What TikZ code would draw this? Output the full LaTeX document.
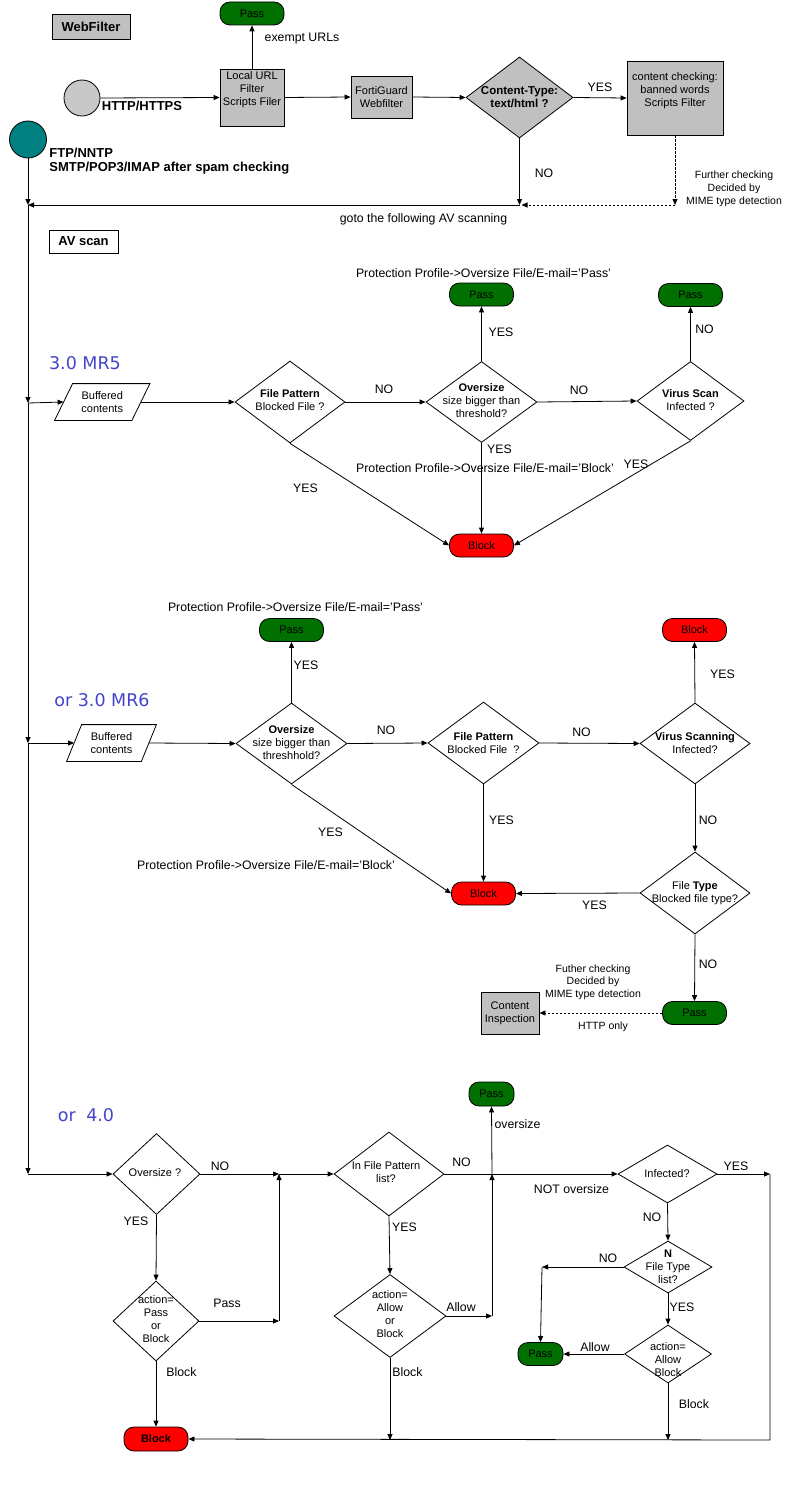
\documentclass[tikz,border=0pt]{standalone}
\usepackage{fontspec}
\setmainfont{Liberation Sans}
\newfontfamily\verfont{DejaVu Sans}
\usetikzlibrary{shapes.geometric,arrows.meta}
\definecolor{passg}{RGB}{0,112,0}
\definecolor{blockr}{RGB}{255,0,0}
\definecolor{boxg}{RGB}{192,192,192}
\definecolor{circg}{RGB}{200,200,200}
\definecolor{tealc}{RGB}{0,128,128}
\definecolor{verblue}{RGB}{68,68,204}
\newcommand\ftxt{\fontsize{11}{13}\selectfont}
\newcommand\flbl{\fontsize{12.3}{14}\selectfont}
\newcommand\fhead{\fontsize{13}{15}\selectfont\bfseries}
\newcommand\fver{\verfont\fontsize{17.5}{20}\selectfont}
\begin{document}
\begin{tikzpicture}[x=1pt,y=-1pt,line width=0.8pt,
  boxnode/.style={draw, fill=boxg, inner sep=0, align=center, font=\ftxt},
  term/.style={draw, rounded corners=10pt, inner sep=0, minimum width=64pt, minimum height=23pt, font=\ftxt},
  passnode/.style={term, fill=passg},
  blocknode/.style={term, fill=blockr},
  dia/.style={draw, diamond, inner sep=0},
  dtext/.style={align=center, font=\ftxt, inner sep=0},
  lbl/.style={font=\flbl, inner sep=0},
  vlbl/.style={font=\fver, text=verblue, inner sep=0},
  arr/.style={-{Triangle[length=6pt,width=5pt]}},
  dashline/.style={dash pattern=on 2.5pt off 1.5pt},
  buf/.style={inner sep=0, minimum height=36pt, align=center, font=\ftxt}
]
\useasboundingbox (0,0) rectangle (788,1498);

% ---------------- WebFilter ----------------
\node[boxnode, minimum width=78pt, minimum height=25pt, font=\fhead] (wf) at (91,26.5) {WebFilter};
\node[passnode] (p0) at (252,13.5) {Pass};
\node[boxnode, minimum width=64pt, minimum height=57pt] (url) at (252,97.5) {};
\node[dtext] at (252,90) {Local URL\\Filter\\Scripts Filer};
\node[draw, circle, fill=circg, minimum size=36pt, inner sep=0] (c1) at (82,98) {};
\node[font=\fhead, inner sep=0] at (142,106) {HTTP/HTTPS};
\node[boxnode, minimum width=61pt, minimum height=42pt] (fg) at (381.5,97) {FortiGuard\\Webfilter};
\node[dia, fill=boxg, minimum width=107pt, minimum height=81pt] (ct) at (519.5,97.5) {};
\node[dtext, font=\fontsize{11.5}{13}\selectfont\bfseries] at (519.5,97.5) {Content-Type:\\text/html ?};
\node[boxnode, minimum width=96pt, minimum height=74pt] (cc) at (675,98) {};
\node[dtext] at (675,91) {content checking:\\banned words\\Scripts Filter};
\coordinate (g1) at (519.5,205);
\coordinate (g2) at (675,205);
\node[draw, circle, fill=tealc, minimum size=37pt, inner sep=0] (c2) at (28,139.5) {};
\node[font=\fhead, anchor=west, inner sep=0] at (49,153) {FTP/NNTP};
\node[font=\fhead, anchor=west, inner sep=0] at (49,168) {SMTP/POP3/IMAP after spam checking};
\coordinate (j0) at (28,205);
\coordinate (j1) at (28,403);
\coordinate (j2) at (28,743);
\coordinate (j3) at (28,1174);

\draw[arr] (url.north) -- (p0.south);
\node[lbl] at (302,39) {exempt URLs};
\draw[arr] (c1.east) -- (url.west);
\draw[arr] (url.east) -- (fg.west);
\draw[arr] (fg.east) -- (ct.west);
\draw[arr] (ct.east) -- (cc.west);
\node[lbl] at (600,87) {YES};
\draw[arr] (ct.south) -- (g1);
\node[lbl] at (544,173) {NO};
\draw[arr, dashline] (cc.south) -- (g2);
\draw[arr, dashline] (g2) -- ([xshift=2pt]g1);
\node[dtext, font=\fontsize{10.5}{13}\selectfont] at (734,189) {Further checking\\Decided by\\MIME type detection};
\draw[arr] (g1) -- (j0);
\node[lbl] at (423.5,219) {goto the following AV scanning};

\draw[arr] (c2.south) -- (j0);
\draw[arr] (j0) -- (j1);
\draw[arr] (j1) -- (j2);
\draw[arr] (j2) -- (j3);

\node[draw, minimum width=69pt, minimum height=23pt, font=\fhead, inner sep=0] (av) at (83.5,241.5) {AV scan};

% ---------------- 3.0 MR5 ----------------
\node[vlbl] at (85,363) {3.0 MR5};
\node[buf, minimum width=76.5pt] (buf5) at (102.25,402) {Buffered\\contents};
\draw ([xshift=9pt]buf5.north west) -- ([xshift=9pt]buf5.north east) -- ([xshift=-9pt]buf5.south east) -- ([xshift=-9pt]buf5.south west) -- cycle;
\node[dia, minimum width=110pt, minimum height=82pt] (fp5) at (290,402) {};
\node[dtext] at (290,400.5) {\textbf{File Pattern}\\Blocked File ?};
\node[dia, minimum width=111pt, minimum height=81pt] (ov5) at (481.5,402) {};
\node[dtext] at (481.5,401) {\textbf{Oversize}\\size bigger than\\threshold?};
\node[dia, minimum width=107pt, minimum height=79pt] (vs5) at (690.5,401) {};
\node[dtext] at (690.5,400) {\textbf{Virus Scan}\\Infected ?};
\node[passnode] (p5a) at (481.5,294.5) {Pass};
\node[passnode] (p5b) at (690.5,295) {Pass};
\node[blocknode] (b5) at (481.5,545.5) {Block};

\draw[arr] (j1) -- (buf5.west);
\draw[arr] (buf5.east) -- (fp5.west);
\draw[arr] (fp5.east) -- (ov5.west);
\node[lbl] at (384,389) {NO};
\draw[arr] (ov5.north) -- (p5a.south);
\node[lbl] at (501,332) {YES};
\node[lbl] at (483.5,273) {Protection Profile->Oversize File/E-mail='Pass'};
\draw[arr] (ov5.east) -- (vs5.west);
\node[lbl] at (579,390) {NO};
\draw[arr] (vs5.north) -- (p5b.south);
\node[lbl] at (704.5,329) {NO};
\draw[arr] (ov5.south) -- (b5.north);
\node[lbl] at (499.5,449) {YES};
\node[lbl] at (485,468) {Protection Profile->Oversize File/E-mail='Block'};
\draw[arr] (fp5.south) -- (b5.west);
\node[lbl] at (305.5,488) {YES};
\draw[arr] (vs5.south) -- (b5.east);
\node[lbl] at (636,464) {YES};

% ---------------- 3.0 MR6 ----------------
\node[vlbl] at (102,700) {or 3.0 MR6};
\node[buf, minimum width=74pt] (buf6) at (111.5,743) {Buffered\\contents};
\draw ([xshift=7.5pt]buf6.north west) -- ([xshift=7.5pt]buf6.north east) -- ([xshift=-7.5pt]buf6.south east) -- ([xshift=-7.5pt]buf6.south west) -- cycle;
\node[dia, minimum width=111pt, minimum height=81pt] (ov6) at (291.5,743.5) {};
\node[dtext] at (291.5,743) {\textbf{Oversize}\\size bigger than\\threshhold?};
\node[dia, minimum width=111pt, minimum height=82pt] (fp6) at (483.5,743) {};
\node[dtext] at (483.5,743) {\textbf{File Pattern}\\Blocked File\ \ ?};
\node[dia, minimum width=110pt, minimum height=81pt] (vs6) at (695,743.5) {};
\node[dtext] at (695,743) {\textbf{Virus Scanning}\\Infected?};
\node[dia, minimum width=110pt, minimum height=82pt] (ft6) at (695,893) {};
\node[dtext] at (695,893) {File \textbf{Type}\\Blocked file type?};
\node[passnode] (p6a) at (291.5,630) {Pass};
\node[blocknode] (b6a) at (694.5,630) {Block};
\node[blocknode] (b6b) at (483.5,893.5) {Block};
\node[passnode] (p6b) at (694.5,1013) {Pass};
\node[boxnode, minimum width=58pt, minimum height=42pt] (ci) at (510,1013) {Content\\Inspection};

\draw[arr] (j2) -- (buf6.west);
\draw[arr] (buf6.east) -- (ov6.west);
\draw[arr] (ov6.north) -- (p6a.south);
\node[lbl] at (306,665) {YES};
\node[lbl] at (295.5,607) {Protection Profile->Oversize File/E-mail='Pass'};
\draw[arr] (ov6.east) -- (fp6.west);
\node[lbl] at (386,730) {NO};
\draw[arr] (fp6.east) -- (vs6.west);
\node[lbl] at (581.5,732) {NO};
\draw[arr] (vs6.north) -- (b6a.south);
\node[lbl] at (722.5,674) {YES};
\draw[arr] (fp6.south) -- (b6b.north);
\node[lbl] at (501.5,820) {YES};
\draw[arr] (vs6.south) -- (ft6.north);
\node[lbl] at (708,820) {NO};
\draw[arr] (ov6.south) -- (b6b.west);
\node[lbl] at (330.5,832) {YES};
\node[lbl] at (266,865) {Protection Profile->Oversize File/E-mail='Block'};
\draw[arr] (ft6.west) -- (b6b.east);
\node[lbl] at (594.5,905) {YES};
\draw[arr] (ft6.south) -- (p6b.north);
\node[lbl] at (708,964) {NO};
\draw[arr, dashline] (p6b.west) -- (ci.east);
\node[dtext, font=\fontsize{10.5}{12.5}\selectfont] at (593,982) {Futher checking\\Decided by\\MIME type detection};
\node[dtext, font=\fontsize{10.5}{12.5}\selectfont] at (603,1027) {HTTP only};

% ---------------- 4.0 ----------------
\node[vlbl] at (86,1115) {or\hspace{0.6em}4.0};
\node[dia, minimum width=87pt, minimum height=81pt] (os4) at (156.5,1174) {};
\node[dtext] at (155,1173) {Oversize ?};
\node[dia, minimum width=86pt, minimum height=80pt] (act1) at (156,1321) {};
\node[dtext] at (156,1319.5) {action=\\Pass\\or\\Block};
\node[dia, minimum width=110pt, minimum height=84pt] (fp4) at (389,1174) {};
\node[dtext] at (386,1172.5) {In File Pattern\\list?};
\node[dia, minimum width=112pt, minimum height=83pt] (act2) at (390,1316) {};
\node[dtext] at (390,1314) {action=\\Allow\\or\\Block};
\node[dia, minimum width=99pt, minimum height=58pt] (inf) at (667.5,1174) {};
\node[dtext] at (667,1174) {Infected?};
\node[dia, minimum width=88pt, minimum height=52pt] (ft4) at (668,1267) {};
\node[dtext] at (668,1267) {\textbf{N}\\File Type\\list?};
\node[dia, minimum width=87pt, minimum height=58pt] (act3) at (668,1354) {};
\node[dtext] at (668,1360) {action=\\Allow\\Block};
\node[passnode, minimum width=45pt, minimum height=24pt] (p4a) at (491.5,1094) {Pass};
\node[passnode, minimum width=45pt, minimum height=23pt] (p4b) at (540.5,1354) {Pass};
\node[blocknode, minimum height=24pt, font=\ftxt\bfseries] (b4) at (156,1439) {Block};
\coordinate (m1) at (279,1174);
\coordinate (m2) at (279,1321);
\coordinate (m3) at (492,1174);
\coordinate (m4) at (492,1316);
\coordinate (m5) at (390,1440);
\coordinate (m6) at (770,1174);
\coordinate (m7) at (770,1440);
\coordinate (m8) at (668,1440);
\coordinate (m9) at (542,1267);

\draw[arr] (j3) -- (os4.west);
\draw[arr] (os4.east) -- (m1);
\node[lbl] at (220,1166) {NO};
\draw[arr] (m1) -- (fp4.west);
\draw[arr] (os4.south) -- (act1.north);
\node[lbl] at (136,1221) {YES};
\draw[arr] (act1.east) -- (m2);
\node[lbl] at (227,1303) {Pass};
\draw[arr] (m2) -- (m1);
\draw[arr] (act1.south) -- (b4.north);
\node[lbl] at (181.5,1372) {Block};
\draw[arr] (fp4.east) -- (inf.west);
\node[lbl] at (461.5,1162) {NO};
\node[lbl] at (571.5,1189) {NOT oversize};
\draw[arr] (m3) -- (p4a.south);
\node[lbl] at (517.5,1124) {oversize};
\draw[arr] (fp4.south) -- (act2.north);
\node[lbl] at (404.5,1227) {YES};
\draw[arr] (act2.east) -- (m4);
\node[lbl] at (461,1307) {Allow};
\draw[arr] (m4) -- (m3);
\draw[arr] (act2.south) -- (m5);
\node[lbl] at (407.5,1372) {Block};
\draw[arr] (inf.east) -- (m6);
\node[lbl] at (736,1166) {YES};
\draw[arr] (m6) -- (m7) -- (b4.east);
\draw[arr] (inf.south) -- (ft4.north);
\node[lbl] at (652,1217) {NO};
\draw[arr] (ft4.west) -- (m9);
\node[lbl] at (608,1258) {NO};
\draw[arr] (m9) -- (p4b.north);
\draw[arr] (ft4.south) -- (act3.north);
\node[lbl] at (682,1307) {YES};
\draw[arr] (act3.west) -- (p4b.east);
\node[lbl] at (595,1347) {Allow};
\draw[arr] (act3.south) -- (m8);
\node[lbl] at (694,1404) {Block};
\end{tikzpicture}
\end{document}
